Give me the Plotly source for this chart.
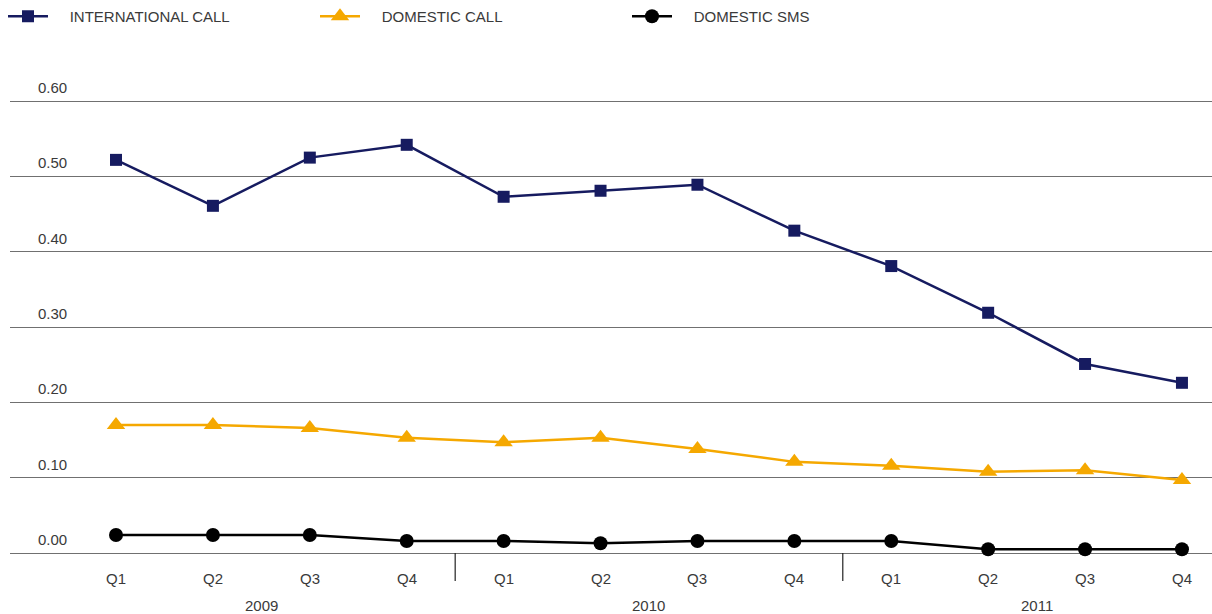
import plotly.graph_objects as go

# Quarterly tariffs, 2009-2011
quarters = ["Q1", "Q2", "Q3", "Q4"] * 3
years = ["2009", "2010", "2011"]
international_call = [0.522, 0.461, 0.525, 0.542, 0.473, 0.481, 0.489, 0.428,
                      0.381, 0.319, 0.251, 0.226]
domestic_call = [0.170, 0.170, 0.166, 0.153, 0.147, 0.153, 0.138, 0.121,
                 0.116, 0.108, 0.110, 0.097]
domestic_sms = [0.024, 0.024, 0.024, 0.016, 0.016, 0.013, 0.016, 0.016,
                0.016, 0.005, 0.005, 0.005]
y_ticks = [0.0, 0.1, 0.2, 0.3, 0.4, 0.5, 0.6]

x = list(range(len(quarters)))
FONT = "Liberation Sans, Arial, sans-serif"
TEXT_COLOR = "#3a3a3a"
PAD = "&nbsp;" * 4  # extra room between legend key and label

fig = go.Figure()
series = [
    ("INTERNATIONAL CALL", international_call, "#161b60", "square", 12),
    ("DOMESTIC CALL", domestic_call, "#f5a800", "triangle-up", 16),
    ("DOMESTIC SMS", domestic_sms, "#000000", "circle", 14),
]
for name, vals, color, symbol, size in series:
    fig.add_trace(go.Scatter(
        x=x, y=vals, name=PAD + name, mode="lines+markers",
        line=dict(color=color, width=2.5),
        marker=dict(symbol=symbol, size=size, color=color),
        cliponaxis=False,
    ))

annotations = []
# y tick labels sit above their gridlines
for v in y_ticks:
    annotations.append(dict(
        x=0, xref="paper", xanchor="left", xshift=26,
        y=v, yref="y", yanchor="bottom", yshift=3,
        text=f"{v:.2f}", showarrow=False,
        font=dict(family=FONT, size=15, color=TEXT_COLOR),
    ))
# quarter labels
for i, q in enumerate(quarters):
    annotations.append(dict(
        x=i, xref="x", y=0, yref="paper", yanchor="middle", yshift=-25,
        text=q, showarrow=False,
        font=dict(family=FONT, size=15, color=TEXT_COLOR),
    ))
# year labels centred under each group of four quarters
for k, yr in enumerate(years):
    annotations.append(dict(
        x=4 * k + 1.5, xref="x", y=0, yref="paper", yanchor="middle", yshift=-52,
        text=yr, showarrow=False,
        font=dict(family=FONT, size=15, color=TEXT_COLOR),
    ))

# separators between years
shapes = []
for b in (3.5, 7.5):
    shapes.append(dict(
        type="line", xref="x", yref="paper", x0=b, x1=b, y0=0, y1=-0.062,
        line=dict(color="#222222", width=1.2),
    ))

fig.update_layout(
    width=1212, height=614,
    margin=dict(l=10, r=0, t=100, b=61),
    paper_bgcolor="white", plot_bgcolor="white",
    font=dict(family=FONT, size=15, color=TEXT_COLOR),
    xaxis=dict(range=[-1.094, 11.31], showgrid=False, zeroline=False,
               showticklabels=False, showline=False, fixedrange=True),
    yaxis=dict(range=[0, 0.6015], tickvals=y_ticks, showticklabels=False,
               showgrid=True, gridcolor="#707070", gridwidth=1.4,
               zeroline=True, zerolinecolor="#707070", zerolinewidth=1.4,
               showline=False, fixedrange=True),
    legend=dict(orientation="h", xref="container", x=3 / 1212, xanchor="left",
                yref="container", y=1, yanchor="top",
                entrywidth=257, entrywidthmode="pixels", itemwidth=40,
                font=dict(family=FONT, size=15, color=TEXT_COLOR),
                bgcolor="rgba(0,0,0,0)"),
    annotations=annotations,
    shapes=shapes,
    showlegend=True,
)

fig.write_html("out.html")
